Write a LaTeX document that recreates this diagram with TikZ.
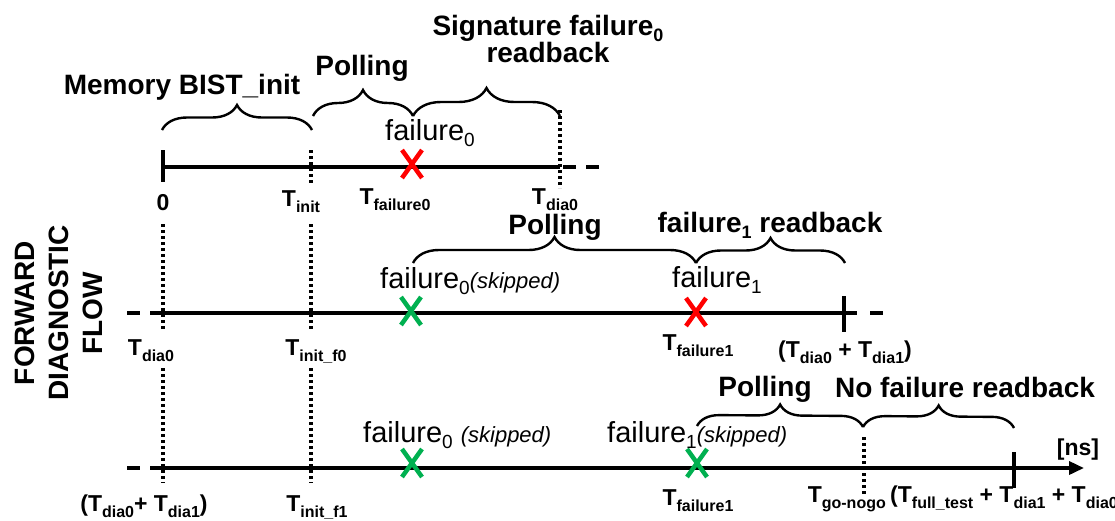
\documentclass[tikz,border=0pt]{standalone}
\usepackage{fontspec}
\setmainfont{Liberation Sans}
\usetikzlibrary{decorations.pathreplacing,arrows.meta}

\definecolor{failred}{RGB}{255,0,0}
\definecolor{skipgreen}{RGB}{0,176,80}

% subscripts set as lowered text
\newcommand{\lblsub}[1]{\raisebox{-6pt}{\fontsize{16}{16}\selectfont #1}}
\newcommand{\evsub}[1]{\raisebox{-6pt}{\fontsize{19}{19}\selectfont #1}}
\newcommand{\ttlsub}[1]{\raisebox{-6pt}{\fontsize{18}{18}\selectfont #1}}
\newcommand{\skp}[1]{{\fontsize{22}{22}\selectfont\itshape #1}}

\tikzset{
  title/.style={font=\fontsize{28}{31}\selectfont\bfseries, inner sep=0pt, anchor=base, align=center},
  event/.style={font=\fontsize{29}{32}\selectfont, inner sep=0pt, anchor=base west},
  tlabel/.style={font=\fontsize{23}{25}\selectfont\bfseries, inner sep=0pt, anchor=base},
  axis/.style={line width=3.5pt},
  tickmark/.style={line width=3.5pt},
  guide/.style={line width=3.5pt, dash pattern=on 3pt off 3pt},
  gapline/.style={line width=3.5pt, dash pattern=on 13pt off 10pt},
  brc/.style={decorate, decoration={brace, amplitude=#1}, line width=2.4pt},
  cross/.pic={\draw[line width=4.5pt, pic actions] (-10,-14) -- (10,14) (-10,14) -- (10,-14);}
}

\begin{document}
\begin{tikzpicture}[x=1pt, y=-1pt]
\useasboundingbox (0,0) rectangle (1115,520);

% side caption
\node[rotate=90, align=center, font=\fontsize{28}{34}\selectfont\bfseries, inner sep=0pt] (flow) at (59,313) {FORWARD\\DIAGNOSTIC\\FLOW};

% ---------- first run ----------
\coordinate (r1s) at (163,167);
\coordinate (r1e) at (560,167);
\draw[axis] (r1s) -- (r1e);
\draw[tickmark] (163,150) -- (163,182);
\draw[gapline] (563,167) -- (603,167);
\draw[guide] (311,150) -- (311,183);
\draw[guide] (560,110) -- (560,188);
\pic[failred] at (412,164) {cross};

\coordinate (b1a) at (162,130); \coordinate (b1b) at (312,130);
\coordinate (b2a) at (313,116); \coordinate (b2b) at (413,116);
\coordinate (b3b) at (560,116);
\draw[brc=25pt] (b1a) -- (b1b);
\draw[brc=26pt] (b2a) -- (b2b);
\draw[brc=28pt] (b2b) -- (b3b);

\node[title] (bist) at (182,94) {Memory BIST\_init};
\node[title] (poll1) at (362,75) {Polling};
\node[title] (sig) at (548,35) {Signature failure\ttlsub{0}};
\node[title] (sigrb) at (548,62) {readback};
\node[event] (f0a) at (385,140) {failure\evsub{0}};

\node[tlabel] (zero) at (163,210) {0};
\node[tlabel] (tinit) at (301,206) {T\lblsub{init}};
\node[tlabel] (tf0) at (395,204) {T\lblsub{failure0}};
\node[tlabel] (tdia0) at (555,204) {T\lblsub{dia0}};

% ---------- second run ----------
\coordinate (r2s) at (163,313);
\coordinate (r2e) at (857,313);
\draw[gapline] (127,313) -- (r2s);
\draw[axis] (r2s) -- (r2e);
\draw[tickmark] (844,296) -- (844,332);
\draw[gapline] (870,313) -- (883,313);
\draw[guide] (163,224) -- (163,329);
\draw[guide] (311,224) -- (311,329);
\pic[skipgreen] at (411,311) {cross};
\pic[failred] at (696,312) {cross};

\coordinate (b4a) at (413,263); \coordinate (b4b) at (696,263);
\coordinate (b5b) at (845,263);
\draw[brc=26pt] (b4a) -- (b4b);
\draw[brc=25pt] (b4b) -- (b5b);

\node[title] (poll2) at (555,234) {Polling};
\node[title] (f1rb) at (770,232) {failure\ttlsub{1} readback};
\node[event] (f0b) at (380,288) {failure\evsub{0}\skp{(skipped)}};
\node[event] (f1a) at (672,287) {failure\evsub{1}};

\node[tlabel] (tdia0b) at (151,355) {T\lblsub{dia0}};
\node[tlabel] (tinitf0) at (316,355) {T\lblsub{init\_f0}};
\node[tlabel] (tf1a) at (698,350) {T\lblsub{failure1}};
\node[tlabel] (tsum1) at (845,357) {(T\lblsub{dia0} + T\lblsub{dia1})};

% ---------- third run ----------
\coordinate (r3s) at (163,468);
\coordinate (r3e) at (1084,468);
\draw[gapline] (127,468) -- (r3s);
\draw[axis, -{Triangle[length=15pt,width=13pt]}] (r3s) -- (r3e);
\draw[tickmark] (1014,452) -- (1014,488);
\draw[guide] (163,368) -- (163,483);
\draw[guide] (311,368) -- (311,483);
\draw[guide] (864,437) -- (864,494);
\pic[skipgreen] at (412,463) {cross};
\pic[skipgreen] at (697,463) {cross};

\coordinate (b6a) at (697,426); \coordinate (b6b) at (863,427);
\coordinate (b7b) at (1014,428);
\draw[brc=22pt] (b6a) -- (b6b);
\draw[brc=22pt] (b6b) -- (b7b);

\node[title] (poll3) at (765,396) {Polling};
\node[title] (nofail) at (965,397) {No failure readback};
\node[event] (f0c) at (363,442) {failure\evsub{0} \skp{(skipped)}};
\node[event] (f1b) at (607,442) {failure\evsub{1}\skp{(skipped)}};
\node[tlabel] (ns) at (1078,455) {[ns]};

\node[tlabel] (tsum2) at (144,511) {(T\lblsub{dia0}+ T\lblsub{dia1})};
\node[tlabel] (tinitf1) at (317,511) {T\lblsub{init\_f1}};
\node[tlabel] (tf1b) at (698,505) {T\lblsub{failure1}};
\node[tlabel, anchor=base east] (tgo) at (886,502) {T\lblsub{go-nogo}};
\node[tlabel, anchor=base west] (tfull) at (890,502) {(T\lblsub{full\_test} + T\lblsub{dia1} + T\lblsub{dia0})};
\end{tikzpicture}
\end{document}
